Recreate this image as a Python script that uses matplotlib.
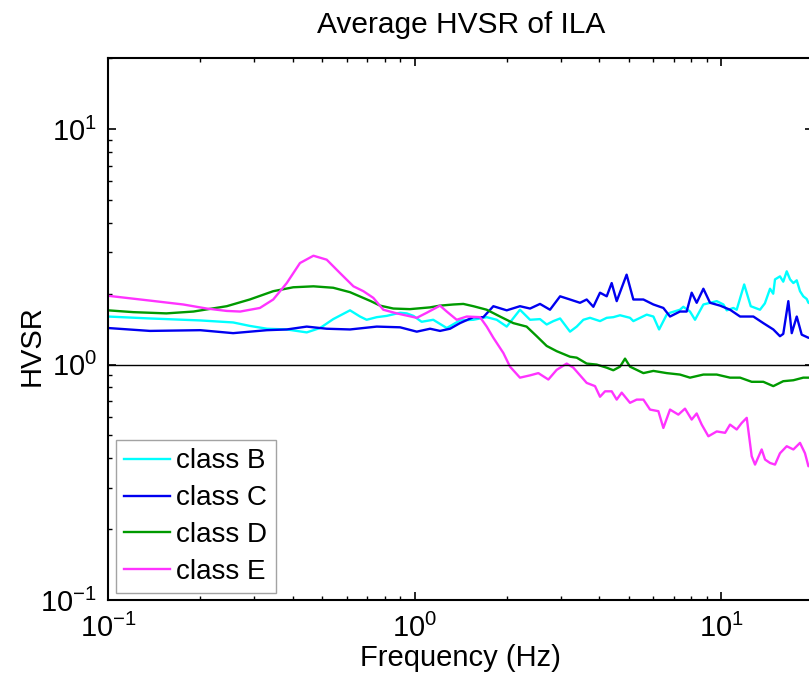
import numpy as np
import matplotlib
matplotlib.use("Agg")
import matplotlib.pyplot as plt
from matplotlib.ticker import LogLocator, FuncFormatter, NullFormatter

# average HVSR curves per site class (Hz, H/V ratio)
FREQ_B = [0.1, 0.137, 0.2, 0.256, 0.29, 0.33, 0.383, 0.445, 0.492, 0.543, 0.616, 0.664,
          0.698, 0.753, 0.811, 0.897, 0.943, 0.992, 1.055, 1.151, 1.274, 1.407, 1.556,
          1.72, 1.854, 1.999, 2.208, 2.382, 2.567, 2.699, 2.838, 2.985, 3.216, 3.382,
          3.555, 3.737, 4.029, 4.237, 4.452, 4.683, 5.047, 5.175, 5.722, 6.016, 6.28,
          6.649, 6.817, 7.346, 7.533, 7.921, 8.225, 8.758, 9.682, 10.18, 10.44, 10.97,
          11.25, 11.9, 12.5, 13.4, 13.9, 14.45, 14.8, 15.0, 15.57, 15.96, 16.38, 16.8,
          17.22, 17.66, 18.1, 18.55, 19.03, 19.28, 20.0]
HVSR_B = [1.60, 1.57, 1.54, 1.51, 1.46, 1.42, 1.41, 1.37, 1.43, 1.56, 1.70, 1.60,
          1.55, 1.59, 1.61, 1.66, 1.65, 1.61, 1.52, 1.55, 1.43, 1.54, 1.55,
          1.59, 1.55, 1.45, 1.71, 1.55, 1.56, 1.48, 1.53, 1.57, 1.38, 1.45,
          1.55, 1.58, 1.53, 1.58, 1.59, 1.62, 1.58, 1.53, 1.63, 1.60, 1.41,
          1.63, 1.66, 1.71, 1.76, 1.68, 1.55, 1.80, 1.86, 1.80, 1.70, 1.74,
          1.71, 2.19, 1.77, 1.71, 1.82, 2.10, 2.00, 2.30, 2.37, 2.25, 2.49, 2.30,
          2.22, 2.28, 2.05, 1.95, 1.90, 1.83, 1.80]

FREQ_C = [0.1, 0.137, 0.2, 0.256, 0.33, 0.383, 0.445, 0.517, 0.616, 0.753, 0.897, 1.017,
          1.124, 1.211, 1.306, 1.407, 1.556, 1.677, 1.808, 1.999, 2.208, 2.382, 2.567,
          2.767, 2.985, 3.216, 3.467, 3.645, 3.832, 4.029, 4.237, 4.398, 4.567, 4.92,
          5.175, 5.581, 6.016, 6.484, 6.817, 7.346, 7.725, 8.021, 8.329, 8.758, 9.208,
          9.928, 10.7, 11.54, 12.75, 13.74, 14.81, 15.57, 15.96, 16.58, 17.01, 17.66,
          18.33, 19.28, 20.0]
HVSR_C = [1.43, 1.39, 1.40, 1.36, 1.40, 1.41, 1.45, 1.42, 1.41, 1.45, 1.44, 1.38,
          1.42, 1.39, 1.42, 1.50, 1.59, 1.59, 1.77, 1.70, 1.77, 1.73, 1.81,
          1.71, 1.95, 1.89, 1.83, 1.89, 1.76, 2.02, 1.95, 2.22, 1.86, 2.41,
          1.89, 1.89, 1.80, 1.74, 1.60, 1.68, 1.68, 2.02, 1.83, 2.10, 1.83,
          1.78, 1.71, 1.60, 1.60, 1.50, 1.41, 1.32, 1.35, 1.86, 1.36, 1.60,
          1.34, 1.30, 1.30]

FREQ_D = [0.1, 0.121, 0.155, 0.19, 0.244, 0.29, 0.346, 0.402, 0.468, 0.543, 0.616, 0.72,
          0.772, 0.853, 0.966, 1.124, 1.211, 1.338, 1.443, 1.556, 1.72, 1.901, 2.101,
          2.321, 2.504, 2.699, 2.91, 3.216, 3.382, 3.645, 3.93, 4.237, 4.452, 4.683,
          4.862, 5.047, 5.581, 6.016, 6.649, 7.346, 7.921, 8.758, 9.682, 10.7, 11.54,
          12.59, 13.74, 14.81, 15.96, 17.22, 18.55, 20.0]
HVSR_D = [1.70, 1.67, 1.65, 1.68, 1.77, 1.89, 2.05, 2.13, 2.15, 2.12, 2.03, 1.86,
          1.78, 1.73, 1.72, 1.75, 1.78, 1.80, 1.81, 1.77, 1.71, 1.60, 1.50,
          1.45, 1.32, 1.20, 1.14, 1.08, 1.07, 1.01, 1.00, 0.97, 0.946, 0.98,
          1.06, 0.98, 0.92, 0.94, 0.92, 0.907, 0.88, 0.907, 0.907, 0.88, 0.88,
          0.845, 0.845, 0.81, 0.85, 0.858, 0.88, 0.88]

FREQ_E = [0.1, 0.137, 0.176, 0.21, 0.244, 0.27, 0.313, 0.346, 0.383, 0.423, 0.468, 0.517,
          0.571, 0.632, 0.681, 0.734, 0.791, 0.875, 1.017, 1.096, 1.211, 1.274, 1.373,
          1.48, 1.636, 1.72, 1.808, 1.949, 2.049, 2.208, 2.382, 2.535, 2.733, 2.91,
          3.137, 3.298, 3.645, 3.88, 4.029, 4.184, 4.398, 4.567, 4.742, 5.047, 5.307,
          5.581, 5.867, 6.246, 6.484, 6.817, 7.257, 7.629, 8.021, 8.329, 8.649, 9.093,
          9.682, 10.31, 10.7, 11.25, 11.68, 12.13, 12.59, 12.91, 13.57, 13.92, 14.45,
          15.0, 15.57, 16.38, 17.22, 18.1, 18.79, 19.28, 20.0]
HVSR_E = [1.96, 1.87, 1.80, 1.73, 1.69, 1.68, 1.74, 1.89, 2.22, 2.70, 2.90, 2.79,
          2.45, 2.15, 2.05, 1.92, 1.71, 1.65, 1.58, 1.66, 1.78, 1.68, 1.55,
          1.60, 1.59, 1.45, 1.30, 1.12, 0.98, 0.88, 0.90, 0.92, 0.864, 0.95,
          1.01, 0.97, 0.836, 0.81, 0.73, 0.77, 0.77, 0.71, 0.76, 0.688, 0.71,
          0.71, 0.644, 0.634, 0.538, 0.644, 0.613, 0.65, 0.584, 0.62, 0.556, 0.496,
          0.52, 0.513, 0.556, 0.53, 0.565, 0.594, 0.408, 0.376, 0.436, 0.395, 0.382,
          0.376, 0.42, 0.45, 0.436, 0.465, 0.42, 0.37, 0.38]

LABELS = ["class B", "class C", "class D", "class E"]
COLORS = ["#00ffff", "#0000f0", "#009a00", "#ff33ff"]

plt.rcParams["font.family"] = ["Liberation Sans", "DejaVu Sans"]
plt.rcParams["mathtext.fontset"] = "custom"
plt.rcParams["mathtext.rm"] = "Liberation Sans"
plt.rcParams["mathtext.it"] = "Liberation Sans"
plt.rcParams["mathtext.default"] = "regular"

fig = plt.figure(figsize=(8.09, 6.86), dpi=100)
# axes box runs a few pixels past the right edge, as in the cropped original
ax = fig.add_axes([108 / 809, 86 / 686, 705.3 / 809, 541.7 / 686])

series = [(FREQ_B, HVSR_B), (FREQ_C, HVSR_C), (FREQ_D, HVSR_D), (FREQ_E, HVSR_E)]
for (f, v), c, lab in zip(series, COLORS, LABELS):
    ax.plot(f, v, color=c, lw=1.7, label=lab)
ax.axhline(1.0, color="k", lw=1.0)

ax.set_xscale("log")
ax.set_yscale("log")
ax.set_xlim(0.1, 20)
ax.set_ylim(0.1, 20)

dec = FuncFormatter(lambda v, _: r"$10^{%d}$" % round(np.log10(v)))
for axis in (ax.xaxis, ax.yaxis):
    axis.set_major_locator(LogLocator(base=10))
    axis.set_minor_locator(LogLocator(base=10, subs=range(2, 10)))
    axis.set_major_formatter(dec)
    axis.set_minor_formatter(NullFormatter())

ax.tick_params(which="both", direction="in", top=True, right=True, labelsize=21)
ax.tick_params(which="major", length=5.5, width=1.2)
ax.tick_params(which="minor", length=3, width=1.0)
ax.tick_params(axis="x", pad=10)
ax.tick_params(axis="y", pad=8)
for s in ax.spines.values():
    s.set_linewidth(1.5)

ax.set_title("Average HVSR of ILA", fontsize=21.5, pad=18)
ax.set_xlabel("Frequency (Hz)", fontsize=21, va="center")
ax.set_ylabel("HVSR", fontsize=21)
ax.xaxis.set_label_coords(0.5, -0.107)
ax.yaxis.set_label_coords(-0.089, 0.47)

leg = ax.legend(loc="lower left", bbox_to_anchor=(0.0113, 0.0124), borderaxespad=0,
                fontsize=20, handlelength=1.65, handletextpad=0.22,
                labelspacing=0.39, borderpad=0.3, fancybox=False)
leg.get_frame().set_edgecolor("#8c8c8c")
leg.get_frame().set_linewidth(1.0)

fig.savefig("out.png", dpi=100)
